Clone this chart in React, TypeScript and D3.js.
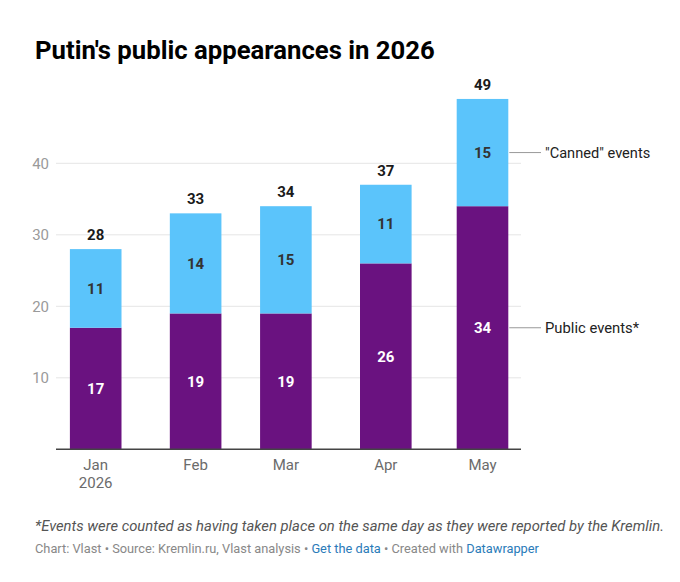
import * as d3 from "d3";

const months = ["2026-01-01", "2026-02-01", "2026-03-01", "2026-04-01", "2026-05-01"];
const monthLabels = [["Jan", "2026"], ["Feb"], ["Mar"], ["Apr"], ["May"]];
const publicEvents = [17, 19, 19, 26, 34];
const cannedEvents = [11, 14, 15, 11, 15];
const yTicks = [10, 20, 30, 40];

const W = 680;
const H = 582;
const PURPLE = "#6a1280";
const BLUE = "#5bc4fb";
const FONT = "Roboto, 'Noto Sans', sans-serif";

const parse = d3.utcParse("%Y-%m-%d");
const dates = months.map((m) => parse(m) as Date);

// columns sit on a time axis, so gaps follow month lengths
const x = d3
  .scaleUtc()
  .domain([dates[0], dates[dates.length - 1]])
  .range([95.7, 482.5]);
const y = d3.scaleLinear().domain([0, 50]).range([449.3, 91.8]);
const BW = 51.6;

const rows = dates.map((d, i) => ({
  date: d,
  label: monthLabels[i],
  pub: publicEvents[i],
  canned: cannedEvents[i],
  total: publicEvents[i] + cannedEvents[i],
}));

export default function App() {
  const last = rows[rows.length - 1];
  const lx = x(last.date) + BW / 2;
  return (
    <svg
      width={W}
      height={H}
      viewBox={`0 0 ${W} ${H}`}
      style={{ position: "absolute", left: 0, top: 0, background: "#fff", fontFamily: FONT }}
    >
      <text x={35} y={59} fontSize={25.7} fontWeight={700} fill="#000">
        Putin's public appearances in 2026
      </text>

      {/* grid */}
      {yTicks.map((t) => (
        <g key={t}>
          <line x1={56} x2={521} y1={y(t)} y2={y(t)} stroke="#e5e5e5" strokeWidth={1} />
          <text x={49} y={y(t)} dy="0.35em" textAnchor="end" fontSize={15} fill="#9a9a9a">
            {t}
          </text>
        </g>
      ))}

      {rows.map((r, i) => {
        const cx = x(r.date);
        return (
          <g key={i}>
            <rect x={cx - BW / 2} y={y(r.pub)} width={BW} height={y(0) - y(r.pub)} fill={PURPLE} />
            <rect x={cx - BW / 2} y={y(r.total)} width={BW} height={y(r.pub) - y(r.total)} fill={BLUE} />
            <text x={cx} y={y(r.pub / 2)} dy="0.35em" textAnchor="middle" fontSize={15} fontWeight={700} fill="#fff">
              {r.pub}
            </text>
            <text x={cx} y={y(r.pub + r.canned / 2)} dy="0.35em" textAnchor="middle" fontSize={15} fontWeight={700} fill="#333">
              {r.canned}
            </text>
            <text x={cx} y={y(r.total) - 9} textAnchor="middle" fontSize={15} fontWeight={700} fill="#1a1a1a">
              {r.total}
            </text>
            {r.label.map((l, j) => (
              <text key={j} x={cx} y={470 + j * 18} textAnchor="middle" fontSize={15} fill="#6b6b6b">
                {l}
              </text>
            ))}
          </g>
        );
      })}

      <line x1={56} x2={521} y1={y(0)} y2={y(0)} stroke="#444" strokeWidth={1.5} />

      {/* direct labels */}
      <line x1={lx + 1} x2={541} y1={y(last.pub + last.canned / 2)} y2={y(last.pub + last.canned / 2)} stroke="#999" strokeWidth={1} />
      <text x={545} y={y(last.pub + last.canned / 2)} dy="0.35em" fontSize={14.6} fill="#222">
        "Canned" events
      </text>
      <line x1={lx + 1} x2={541} y1={y(last.pub / 2)} y2={y(last.pub / 2)} stroke="#999" strokeWidth={1} />
      <text x={545} y={y(last.pub / 2)} dy="0.35em" fontSize={14.8} fill="#222">
        Public events*
      </text>

      <text x={35} y={531} fontSize={14.8} fontStyle="italic" fill="#555">
        *Events were counted as having taken place on the same day as they were reported by the Kremlin.
      </text>
      <text x={35} y={553} fontSize={12.8} fill="#888">
        Chart: Vlast • Source: Kremlin.ru, Vlast analysis •{" "}
        <tspan fill="#2b7bb9">Get the data</tspan> • Created with <tspan fill="#2b7bb9">Datawrapper</tspan>
      </text>
    </svg>
  );
}
